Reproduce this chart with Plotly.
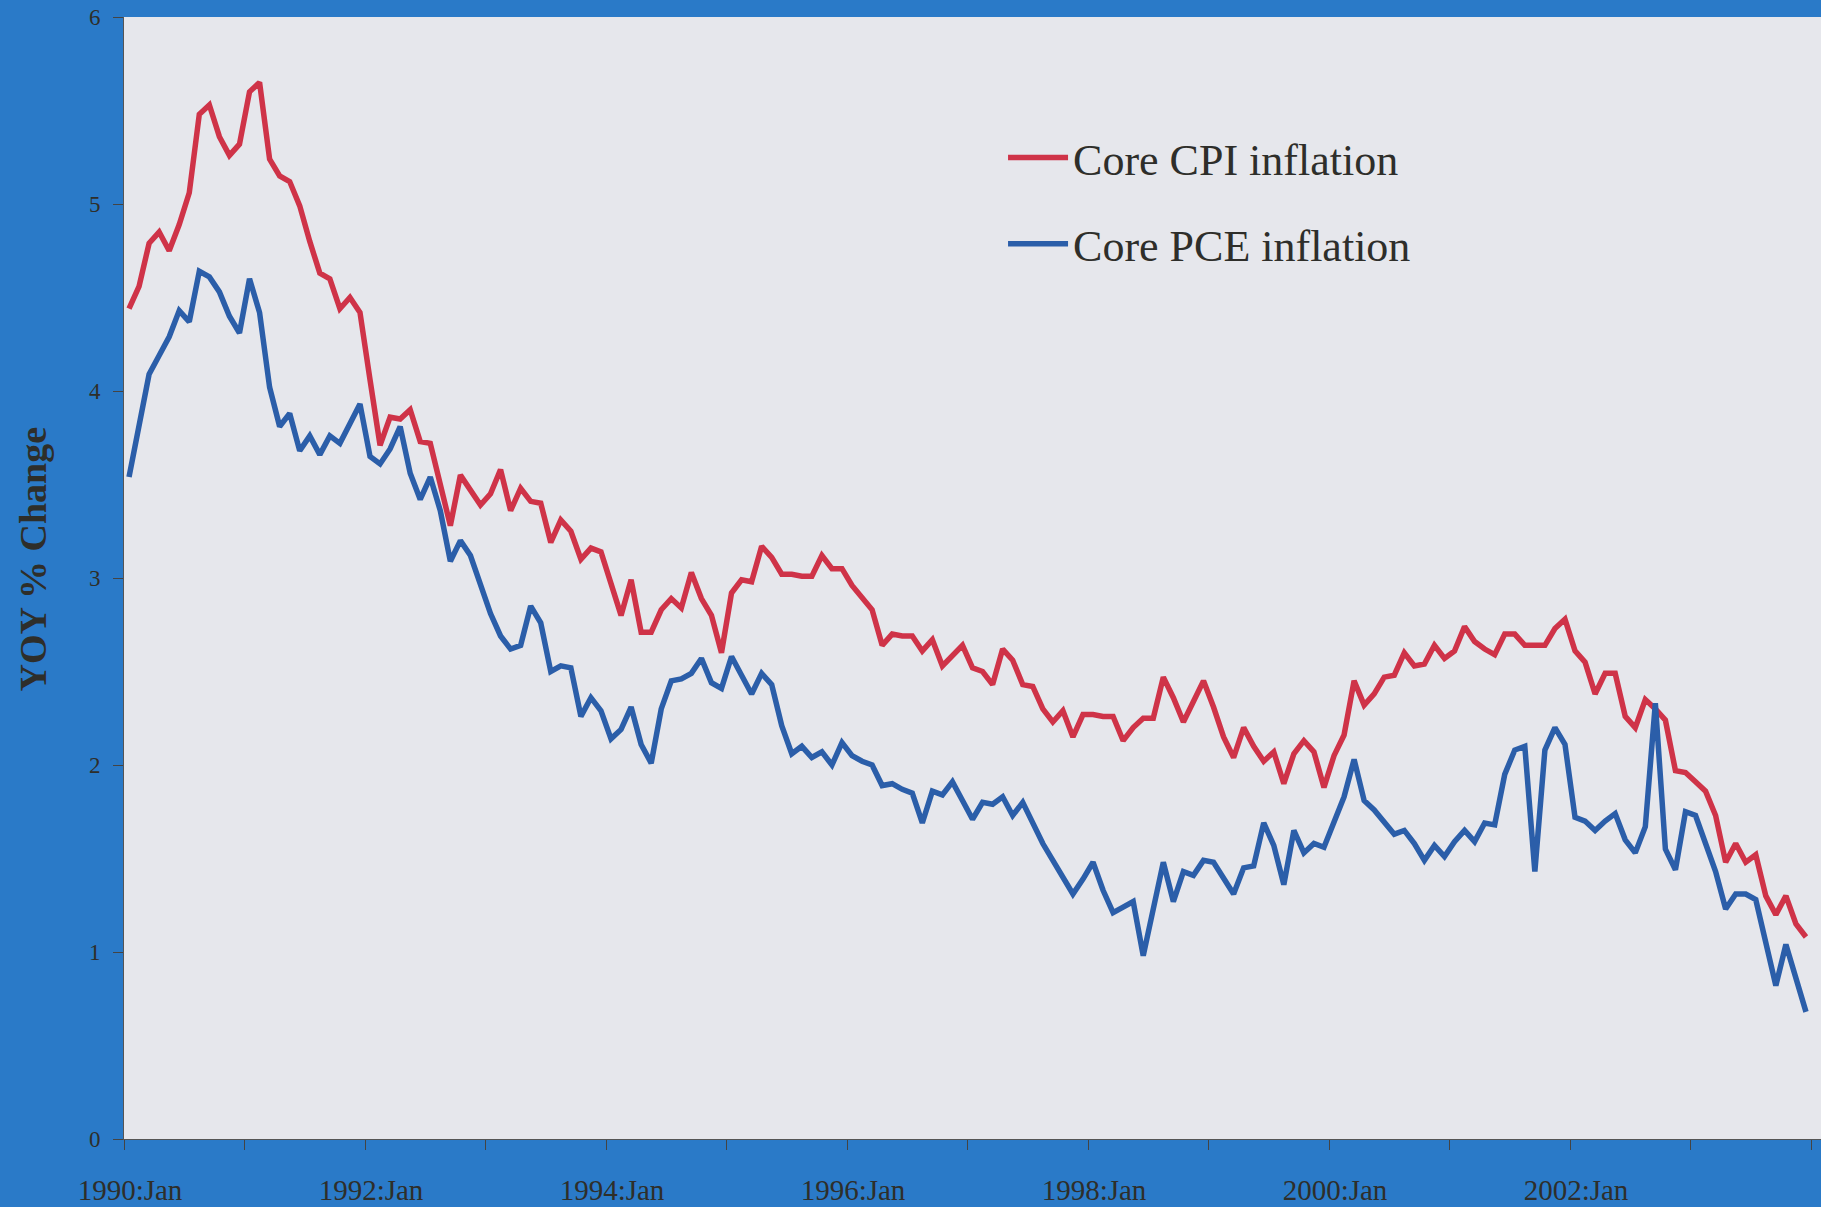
import plotly.graph_objects as go

# Monthly observations, 1990:Jan .. 2003:Dec
start_year = 1990
n_months = 168

core_cpi = [
    4.44, 4.56, 4.79, 4.85, 4.75, 4.89, 5.06, 5.48, 5.53, 5.36, 5.26, 5.32,
    5.60, 5.65, 5.24, 5.15, 5.12, 4.99, 4.80, 4.63, 4.60, 4.44, 4.50, 4.42,
    4.06, 3.71, 3.86, 3.85, 3.90, 3.73, 3.72, 3.50, 3.28, 3.55, 3.47, 3.39,
    3.45, 3.58, 3.36, 3.48, 3.41, 3.40, 3.19, 3.31, 3.25, 3.10, 3.16, 3.14,
    2.97, 2.80, 2.99, 2.71, 2.71, 2.83, 2.89, 2.84, 3.03, 2.89, 2.80, 2.60,
    2.92, 2.99, 2.98, 3.17, 3.11, 3.02, 3.02, 3.01, 3.01, 3.12, 3.05, 3.05,
    2.96, 2.89, 2.83, 2.64, 2.70, 2.69, 2.69, 2.61, 2.67, 2.53, 2.58, 2.64,
    2.52, 2.50, 2.43, 2.62, 2.56, 2.43, 2.42, 2.30, 2.23, 2.29, 2.15, 2.27,
    2.27, 2.26, 2.26, 2.13, 2.20, 2.25, 2.25, 2.47, 2.36, 2.23, 2.34, 2.45,
    2.31, 2.15, 2.04, 2.20, 2.10, 2.02, 2.07, 1.90, 2.06, 2.13, 2.07, 1.88,
    2.05, 2.16, 2.45, 2.32, 2.38, 2.47, 2.48, 2.60, 2.53, 2.54, 2.64, 2.57,
    2.61, 2.74, 2.66, 2.62, 2.59, 2.70, 2.70, 2.64, 2.64, 2.64, 2.73, 2.78,
    2.61, 2.55, 2.38, 2.49, 2.49, 2.26, 2.20, 2.35, 2.30, 2.24, 1.97, 1.96,
    1.91, 1.86, 1.73, 1.48, 1.58, 1.48, 1.52, 1.30, 1.20, 1.30, 1.15, 1.08,
]

core_pce = [
    3.54, 3.81, 4.09, 4.19, 4.29, 4.43, 4.37, 4.64, 4.61, 4.53, 4.40, 4.31,
    4.60, 4.42, 4.02, 3.81, 3.88, 3.68, 3.76, 3.66, 3.76, 3.72, 3.82, 3.93,
    3.65, 3.61, 3.69, 3.81, 3.56, 3.42, 3.54, 3.36, 3.09, 3.20, 3.12, 2.96,
    2.81, 2.69, 2.62, 2.64, 2.85, 2.76, 2.50, 2.53, 2.52, 2.26, 2.36, 2.29,
    2.14, 2.19, 2.31, 2.11, 2.01, 2.30, 2.45, 2.46, 2.49, 2.57, 2.44, 2.41,
    2.58, 2.48, 2.38, 2.49, 2.43, 2.21, 2.06, 2.10, 2.04, 2.07, 2.00, 2.12,
    2.05, 2.02, 2.00, 1.89, 1.90, 1.87, 1.85, 1.69, 1.86, 1.84, 1.91, 1.81,
    1.71, 1.80, 1.79, 1.83, 1.73, 1.80, 1.69, 1.58, 1.49, 1.40, 1.31, 1.39,
    1.48, 1.33, 1.21, 1.24, 1.27, 0.98, 1.22, 1.48, 1.27, 1.43, 1.41, 1.49,
    1.48, 1.40, 1.31, 1.45, 1.46, 1.69, 1.57, 1.36, 1.65, 1.53, 1.58, 1.56,
    1.69, 1.83, 2.03, 1.81, 1.76, 1.69, 1.63, 1.65, 1.58, 1.49, 1.57, 1.51,
    1.59, 1.65, 1.59, 1.69, 1.68, 1.95, 2.08, 2.10, 1.43, 2.08, 2.20, 2.11,
    1.72, 1.70, 1.65, 1.70, 1.74, 1.60, 1.53, 1.67, 2.33, 1.55, 1.44, 1.75,
    1.73, 1.58, 1.43, 1.23, 1.31, 1.31, 1.28, 1.05, 0.82, 1.04, 0.86, 0.68,
]

tick_years = list(range(1990, 2005))
tick_labels = [f"{y}:Jan" if y % 2 == 0 and y < 2004 else "" for y in tick_years]
y_ticks = [0, 1, 2, 3, 4, 5, 6]
y_title = "YOY % Change"

# observation positions (mid-month, in fractional years)
x_vals = [start_year + (i + 0.5) / 12 for i in range(n_months)]

BG = "#2a7ac8"
PLOT_BG = "#e6e7ec"
RED = "#cf3348"
BLUE = "#2b5ea9"
TXT = "#2e2e2a"
SERIF = "Liberation Serif, Times New Roman, serif"

fig = go.Figure()
fig.add_trace(go.Scatter(x=x_vals, y=core_cpi, mode="lines", name="Core CPI inflation",
                         line=dict(color=RED, width=5.5), legendgroup="a"))
fig.add_trace(go.Scatter(x=x_vals, y=core_pce, mode="lines", name="Core PCE inflation",
                         line=dict(color=BLUE, width=5.5), legendgroup="b"))

fig.update_layout(
    width=1821, height=1207,
    margin=dict(l=124, r=0, t=17, b=68),
    paper_bgcolor=BG, plot_bgcolor=PLOT_BG,
    font=dict(family=SERIF, color=TXT),
    showlegend=True,
    legend=dict(
        x=0.518, y=0.906, xanchor="left", yanchor="top",
        bgcolor="rgba(0,0,0,0)", borderwidth=0,
        font=dict(family=SERIF, size=44, color=TXT),
        tracegroupgap=26, itemwidth=60,
    ),
    xaxis=dict(
        range=[1990, 1990 + 1697 / 120.5],
        tickmode="array", tickvals=tick_years, ticktext=tick_labels,
        ticks="outside", ticklen=10, tickwidth=1, tickcolor="#444444",
        showgrid=False, zeroline=False, automargin=False,
        showline=True, linecolor="#555555", linewidth=1,
        tickfont=dict(family=SERIF, size=29, color=TXT),
        ticklabelstandoff=15, ticklabelshift=6,
    ),
    yaxis=dict(
        range=[0, 6], tickvals=y_ticks,
        ticks="outside", ticklen=10, tickwidth=1, tickcolor="#444444",
        showgrid=False, zeroline=False, automargin=False,
        showline=True, linecolor="#555555", linewidth=1,
        tickfont=dict(family=SERIF, size=23, color=TXT),
        ticklabelstandoff=8,
    ),
    annotations=[dict(
        text=f"<b>{y_title}</b>", textangle=-90, showarrow=False,
        xref="paper", yref="paper", x=(32.5 - 124) / 1697, y=(1139 - 559) / 1122,
        xanchor="center", yanchor="middle",
        font=dict(family=SERIF, size=38, color=TXT),
    )],
)

fig.write_html(
    "out.html",
    config={"displayModeBar": False},
    post_script="document.body.style.margin='0';document.body.style.overflow='hidden';",
)
